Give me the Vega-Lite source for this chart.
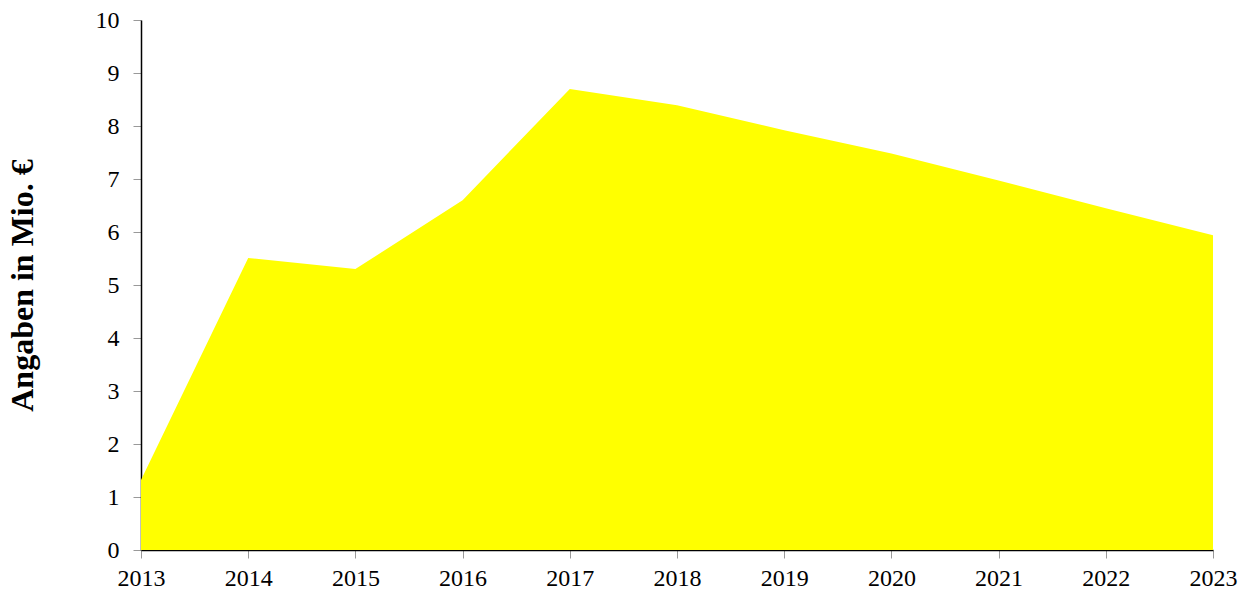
{
  "$schema": "https://vega.github.io/schema/vega-lite/v6.json",
  "width": 1072,
  "height": 530,
  "autosize": {"type": "none"},
  "padding": {"left": 141, "top": 20, "right": 36, "bottom": 46},
  "background": "white",
  "config": {"view": {"stroke": null}, "font": "'Times New Roman', 'Liberation Serif', serif"},
  "data": {
    "values": [
      {"Jahr": 2013, "Wert": 1.32},
      {"Jahr": 2014, "Wert": 5.51},
      {"Jahr": 2015, "Wert": 5.30},
      {"Jahr": 2016, "Wert": 6.60},
      {"Jahr": 2017, "Wert": 8.70},
      {"Jahr": 2018, "Wert": 8.39},
      {"Jahr": 2019, "Wert": 7.92},
      {"Jahr": 2020, "Wert": 7.48},
      {"Jahr": 2021, "Wert": 6.97},
      {"Jahr": 2022, "Wert": 6.45},
      {"Jahr": 2023, "Wert": 5.94}
    ]
  },
  "mark": {"type": "area", "color": "#FFFF00", "strokeWidth": 0},
  "encoding": {
    "x": {
      "field": "Jahr",
      "type": "quantitative",
      "scale": {"domain": [2013, 2023], "nice": false, "zero": false},
      "axis": {
        "title": null,
        "format": "d",
        "values": [2013, 2014, 2015, 2016, 2017, 2018, 2019, 2020, 2021, 2022, 2023],
        "grid": false,
        "domainColor": "black",
        "domainWidth": 1.5,
        "tickColor": "#999999",
        "tickSize": 8,
        "labelFont": "'Times New Roman', 'Liberation Serif', serif",
        "labelFontSize": 24,
        "labelColor": "black",
        "labelPadding": 8,
        "labelFlush": false
      }
    },
    "y": {
      "field": "Wert",
      "type": "quantitative",
      "scale": {"domain": [0, 10], "nice": false},
      "axis": {
        "title": "Angaben in Mio.  €",
        "titleFont": "'Times New Roman', 'Liberation Serif', serif",
        "titleFontSize": 32,
        "titleFontWeight": "bold",
        "titleColor": "black",
        "titlePadding": 56,
        "values": [0, 1, 2, 3, 4, 5, 6, 7, 8, 9, 10],
        "grid": false,
        "domainColor": "black",
        "domainWidth": 1.5,
        "tickColor": "#999999",
        "tickSize": 8,
        "labelFont": "'Times New Roman', 'Liberation Serif', serif",
        "labelFontSize": 24,
        "labelColor": "black",
        "labelPadding": 14
      }
    }
  }
}
